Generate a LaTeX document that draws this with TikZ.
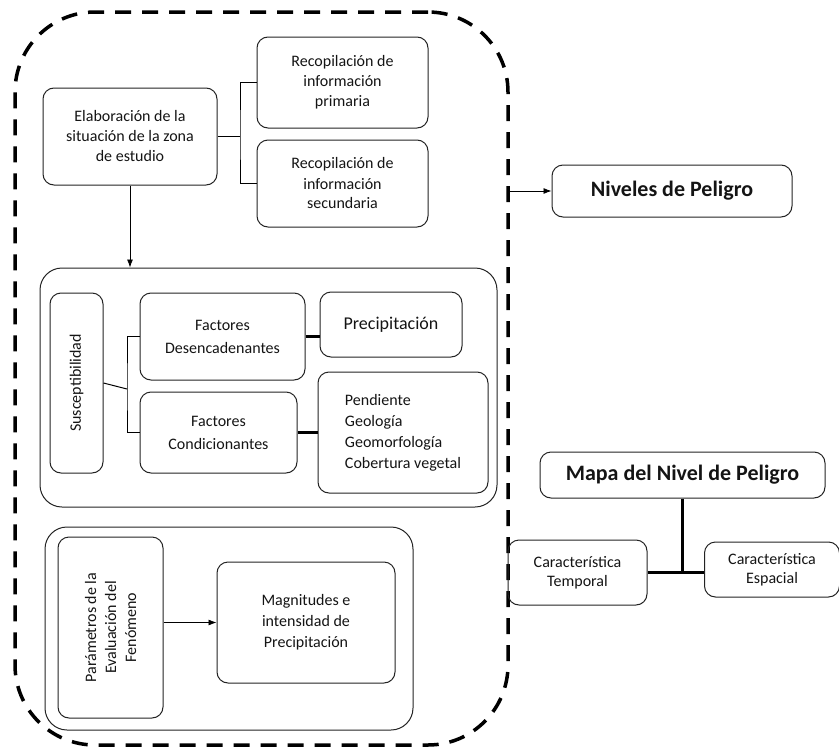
\documentclass[tikz,border=0pt]{standalone}
\usepackage{fontspec}
\setmainfont{Carlito}
\usetikzlibrary{calc}
\usetikzlibrary{positioning}
\usetikzlibrary{arrows.meta}
\definecolor{custom-line}{RGB}{35, 35, 35}
\definecolor{custom-text}{RGB}{20, 20, 20}

\begin{document}
\begin{tikzpicture}[x=1pt, y=-1pt,
    caja/.style={draw=custom-line, line width=1pt, rounded corners=11pt, align=center, inner sep=0pt, text=custom-text, font=\fontsize{16}{20}\selectfont},
    grupo/.style={draw=custom-line, line width=1pt, rounded corners=22pt, inner sep=0pt},
    flecha/.style={-{Latex[length=8pt, width=6pt]}, line width=0.8pt},
    grueso/.style={line width=3pt}]
            \useasboundingbox (0, 0) rectangle (839, 750);
            \node[draw, line width=3.5pt, dash pattern=on 16pt off 11pt, rounded corners=80pt, minimum width=493pt, minimum height=733pt, inner sep=0pt] (zona) at (261.5, 378.5) {};
            \node[caja, minimum width=174pt, minimum height=97pt] (elab) at (130, 136.5) {Elaboración de la\\situación de la zona\\de estudio};
            \node[caja, minimum width=171pt, minimum height=91pt] (recprim) at (342.5, 82.5) {Recopilación de\\información\\primaria};
            \node[caja, minimum width=171pt, minimum height=87pt] (recsec) at (342.5, 183.5) {Recopilación de\\información\\secundaria};
            \coordinate (llave1) at (240, 136.5);
            \draw[line width=1pt] (elab.east) -- (llave1);
            \draw[line width=1pt] (recprim.west) -| (llave1) |- (recsec.west);
            \node[grupo, minimum width=457pt, minimum height=239pt] (bloqsus) at (268.5, 387.5) {};
            \draw[flecha] (elab.south) -- (elab.south |- bloqsus.north);
            \node[caja, rotate=90, minimum width=180pt, minimum height=53pt] (susc) at (76.5, 383) {Susceptibilidad};
            \node[caja, minimum width=165pt, minimum height=87pt, font=\fontsize{16}{23}\selectfont] (fdes) at (222.5, 336.5) {Factores\\Desencadenantes};
            \node[caja, minimum width=142pt, minimum height=65pt, font=\fontsize{18}{22}\selectfont] (prec) at (391, 324.5) {Precipitación};
            \node[caja, minimum width=157pt, minimum height=81pt, font=\fontsize{16}{23}\selectfont] (fcond) at (218.5, 432.5) {Factores\\Condicionantes};
            \node[caja, minimum width=170pt, minimum height=121pt, align=left, font=\fontsize{16}{21}\selectfont] (fvar) at (403, 432.5) {Pendiente\\Geología\\Geomorfología\\Cobertura vegetal};
            \coordinate (llave2) at (127, 389);
            \draw[line width=1pt] (susc.south) -- (llave2);
            \draw[line width=1pt] (fdes.west) -| (llave2) |- (fcond.west);
            \draw[grueso] (fdes.east) -- (fdes.east -| prec.west);
            \draw[grueso] (fcond.east) -- (fcond.east -| fvar.west);
            \node[grupo, minimum width=368pt, minimum height=203pt] (bloqpar) at (229, 628.5) {};
            \node[caja, rotate=90, minimum width=181pt, minimum height=105pt] (param) at (110.5, 627.5) {Parámetros de la\\Evaluación del\\Fenómeno};
            \node[caja, minimum width=178pt, minimum height=121pt, font=\fontsize{16}{21}\selectfont] (magn) at (306, 622.5) {Magnitudes e\\intensidad de\\Precipitación};
            \draw[flecha] (magn.west -| param.south) -- (magn.west);
            \node[caja, minimum width=240pt, minimum height=52pt, font=\fontsize{22}{24}\selectfont\bfseries] (niveles) at (672, 191) {Niveles de Peligro};
            \draw[flecha] (zona.east |- niveles.west) -- (niveles.west);
            \node[caja, minimum width=285pt, minimum height=46pt, font=\fontsize{22}{25}\selectfont\bfseries] (mapa) at (682.5, 475) {Mapa del Nivel de Peligro};
            \node[caja, minimum width=139pt, minimum height=65pt, font=\fontsize{16}{19}\selectfont] (ctemp) at (577.5, 572.5) {Característica\\Temporal};
            \node[caja, minimum width=135pt, minimum height=55pt, font=\fontsize{16}{19}\selectfont] (cesp) at (772, 569.5) {Característica\\Espacial};
            \draw[line width=2.6pt] (mapa.south) -- (mapa.south |- ctemp.east);
            \draw[line width=2.6pt] (ctemp.east) -- (ctemp.east -| cesp.west);
\end{tikzpicture}
\end{document}
